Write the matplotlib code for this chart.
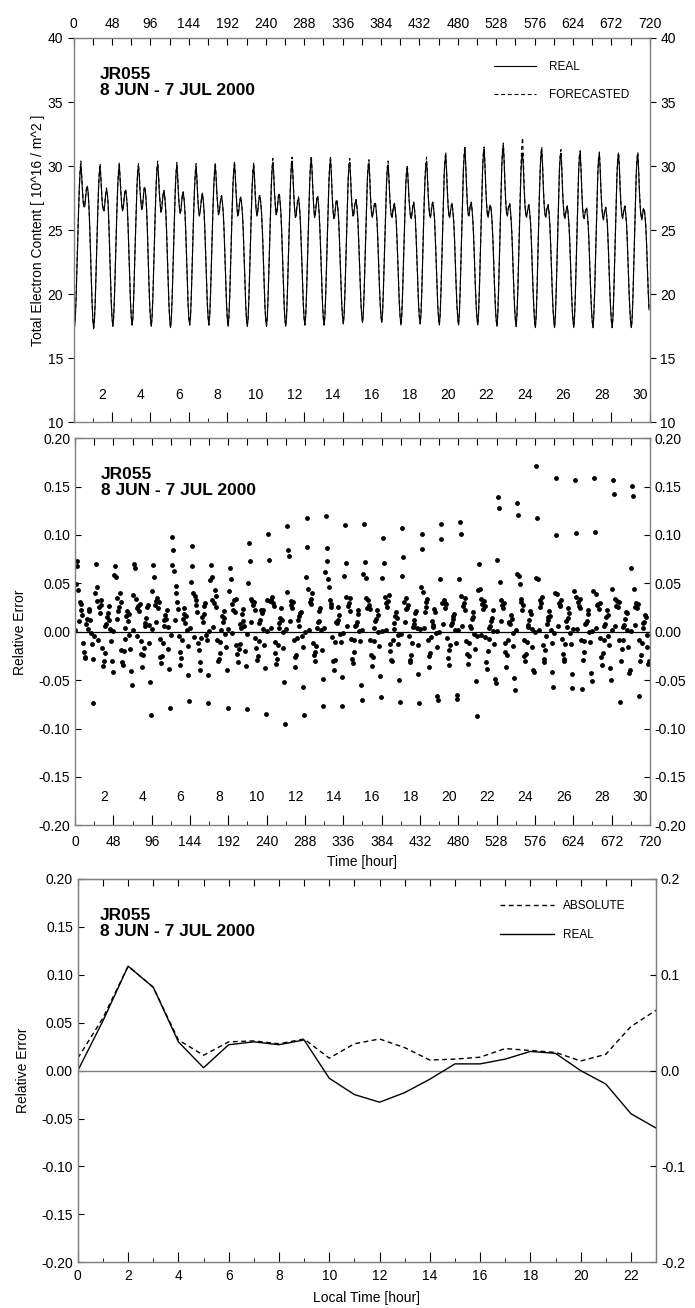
import numpy as np
import matplotlib
matplotlib.use("Agg")
import matplotlib.pyplot as plt
from matplotlib.ticker import MultipleLocator, FixedLocator
import matplotlib.transforms as mtransforms

plt.rcParams['font.family'] = ['Liberation Sans', 'DejaVu Sans']

# hourly TEC, one row per day (8 JUN - 7 JUL 2000), 10^16 / m^2
real_days = [
    [17.6, 17.4, 18.0, 19.6, 21.7, 24.0, 26.3, 28.2, 29.5, 30.2, 29.2, 28.0, 27.1, 26.8, 26.9, 27.6, 28.2, 28.4, 28.0, 27.0, 25.4, 23.3, 21.1, 19.3],
    [18.0, 17.3, 18.0, 19.5, 21.6, 23.9, 26.2, 28.1, 29.4, 30.0, 29.1, 27.8, 26.9, 26.6, 26.5, 27.1, 27.8, 28.2, 27.9, 27.1, 25.5, 23.4, 21.2, 19.3],
    [18.1, 17.5, 18.2, 19.8, 21.9, 24.2, 26.5, 28.3, 29.5, 30.1, 29.0, 27.9, 27.0, 26.5, 26.7, 27.4, 28.0, 28.1, 27.6, 26.9, 25.3, 23.3, 21.2, 19.4],
    [18.2, 17.6, 18.1, 19.7, 21.8, 24.1, 26.3, 28.2, 29.6, 30.0, 29.2, 28.0, 27.2, 26.6, 26.8, 27.5, 28.2, 28.3, 27.8, 26.8, 25.2, 23.1, 21.0, 19.2],
    [18.1, 17.5, 18.2, 19.8, 21.9, 24.2, 26.5, 28.4, 29.7, 30.2, 29.3, 28.0, 27.1, 26.4, 26.6, 27.3, 27.9, 28.0, 27.5, 26.6, 25.1, 23.2, 21.1, 19.3],
    [18.0, 17.4, 18.0, 19.6, 21.8, 24.0, 26.3, 28.2, 29.5, 30.1, 29.1, 27.7, 26.8, 26.3, 26.5, 27.2, 27.8, 27.9, 27.4, 26.5, 25.0, 23.0, 21.0, 19.2],
    [18.1, 17.6, 18.2, 19.8, 21.9, 24.2, 26.4, 28.2, 29.4, 30.0, 29.0, 27.6, 26.6, 26.1, 26.4, 27.0, 27.6, 27.8, 27.3, 26.4, 24.9, 23.0, 21.0, 19.3],
    [18.2, 17.6, 18.3, 19.9, 22.0, 24.3, 26.5, 28.3, 29.5, 30.1, 29.1, 27.8, 26.9, 26.2, 26.4, 27.0, 27.5, 27.6, 27.1, 26.3, 24.9, 23.0, 21.0, 19.3],
    [18.1, 17.5, 18.2, 19.8, 21.9, 24.2, 26.5, 28.4, 29.6, 30.2, 29.2, 27.9, 26.8, 26.1, 26.3, 26.9, 27.4, 27.5, 27.0, 26.2, 24.8, 22.9, 20.9, 19.2],
    [18.0, 17.5, 18.1, 19.7, 21.8, 24.1, 26.4, 28.3, 29.5, 30.1, 29.0, 27.6, 26.6, 26.1, 26.4, 27.1, 27.6, 27.6, 27.0, 26.1, 24.7, 22.8, 20.8, 19.1],
    [18.0, 17.5, 18.2, 19.8, 22.0, 24.3, 26.6, 28.5, 29.8, 30.3, 29.3, 27.9, 26.9, 26.2, 26.4, 27.0, 27.7, 27.8, 27.2, 26.3, 24.8, 22.9, 20.9, 19.2],
    [18.0, 17.5, 18.2, 19.9, 22.1, 24.5, 26.8, 28.7, 30.0, 30.4, 29.3, 27.8, 26.7, 26.0, 26.1, 26.8, 27.3, 27.5, 27.0, 26.1, 24.6, 22.8, 20.8, 19.2],
    [18.1, 17.6, 18.3, 20.0, 22.2, 24.6, 26.9, 28.8, 30.1, 30.6, 29.5, 28.0, 26.8, 26.0, 26.2, 26.9, 27.5, 27.6, 27.0, 26.1, 24.6, 22.8, 20.8, 19.2],
    [18.1, 17.6, 18.3, 20.0, 22.2, 24.6, 26.9, 28.8, 30.0, 30.5, 29.4, 27.8, 26.6, 25.9, 26.0, 26.6, 27.2, 27.3, 26.8, 26.0, 24.5, 22.7, 20.8, 19.2],
    [18.2, 17.7, 18.4, 20.1, 22.3, 24.7, 27.0, 28.9, 30.0, 30.3, 29.2, 27.7, 26.7, 26.1, 26.2, 26.8, 27.2, 27.3, 26.8, 26.0, 24.5, 22.7, 20.8, 19.3],
    [18.3, 17.8, 18.5, 20.2, 22.4, 24.8, 27.0, 28.9, 29.9, 30.2, 29.1, 27.5, 26.4, 26.0, 26.2, 26.7, 27.0, 27.1, 26.6, 25.8, 24.4, 22.6, 20.8, 19.3],
    [18.3, 17.8, 18.5, 20.2, 22.4, 24.7, 26.9, 28.7, 29.8, 30.1, 29.0, 27.6, 26.6, 26.1, 26.0, 26.5, 26.9, 27.0, 26.5, 25.8, 24.4, 22.6, 20.7, 19.2],
    [18.2, 17.6, 18.3, 20.0, 22.2, 24.5, 26.8, 28.5, 29.5, 29.8, 28.8, 27.5, 26.6, 26.0, 25.9, 26.4, 26.9, 27.1, 26.6, 25.8, 24.4, 22.6, 20.7, 19.2],
    [18.2, 17.7, 18.4, 20.1, 22.4, 24.8, 27.1, 28.9, 30.0, 30.4, 29.3, 27.8, 26.7, 26.1, 26.0, 26.5, 27.0, 27.1, 26.6, 25.8, 24.3, 22.5, 20.6, 19.1],
    [18.1, 17.6, 18.4, 20.2, 22.5, 25.0, 27.4, 29.3, 30.4, 30.8, 29.6, 28.0, 26.8, 26.1, 26.0, 26.5, 26.9, 27.0, 26.4, 25.6, 24.2, 22.4, 20.6, 19.1],
    [18.1, 17.6, 18.5, 20.3, 22.7, 25.2, 27.7, 29.6, 30.8, 31.2, 30.0, 28.3, 27.0, 26.2, 26.1, 26.6, 27.0, 27.1, 26.5, 25.6, 24.2, 22.4, 20.6, 19.1],
    [18.1, 17.6, 18.5, 20.3, 22.7, 25.2, 27.7, 29.7, 30.9, 31.3, 30.0, 28.3, 27.0, 26.2, 26.0, 26.5, 26.8, 26.9, 26.4, 25.5, 24.1, 22.3, 20.5, 19.0],
    [18.0, 17.5, 18.4, 20.3, 22.8, 25.4, 27.9, 30.0, 31.2, 31.6, 30.3, 28.5, 27.1, 26.3, 26.1, 26.6, 26.9, 27.0, 26.4, 25.5, 24.1, 22.3, 20.5, 19.0],
    [18.0, 17.5, 18.4, 20.2, 22.6, 25.1, 27.6, 29.6, 30.7, 31.0, 29.8, 28.1, 26.9, 26.2, 26.0, 26.4, 26.8, 26.9, 26.3, 25.5, 24.1, 22.3, 20.5, 19.0],
    [17.9, 17.4, 18.3, 20.2, 22.7, 25.2, 27.7, 29.7, 30.9, 31.2, 30.0, 28.2, 26.9, 26.2, 26.0, 26.5, 26.8, 26.9, 26.4, 25.5, 24.0, 22.2, 20.4, 18.9],
    [17.9, 17.4, 18.3, 20.2, 22.6, 25.1, 27.6, 29.6, 30.7, 31.0, 29.8, 28.0, 26.8, 26.1, 25.9, 26.4, 26.7, 26.8, 26.2, 25.4, 24.0, 22.2, 20.4, 18.9],
    [17.9, 17.4, 18.3, 20.1, 22.5, 25.0, 27.5, 29.5, 30.7, 31.0, 29.8, 28.0, 26.7, 26.0, 25.9, 26.3, 26.6, 26.7, 26.2, 25.4, 24.0, 22.2, 20.4, 18.9],
    [17.9, 17.4, 18.3, 20.1, 22.5, 25.0, 27.5, 29.4, 30.6, 30.9, 29.7, 28.0, 26.8, 26.1, 25.8, 26.2, 26.6, 26.7, 26.2, 25.4, 23.9, 22.1, 20.3, 18.9],
    [17.9, 17.4, 18.3, 20.1, 22.5, 25.0, 27.4, 29.4, 30.6, 30.9, 29.8, 28.1, 26.9, 26.2, 25.9, 26.3, 26.7, 26.8, 26.2, 25.4, 23.9, 22.1, 20.3, 18.8],
    [17.8, 17.4, 18.2, 20.0, 22.4, 24.9, 27.4, 29.3, 30.5, 30.9, 29.7, 28.0, 26.8, 26.1, 25.8, 26.2, 26.6, 26.6, 26.1, 25.3, 23.8, 22.0, 20.2, 18.8],
]

fcst_days = [
    [17.6, 17.5, 18.2, 19.8, 21.9, 24.2, 26.4, 28.3, 29.7, 30.4, 29.3, 28.1, 27.2, 26.9, 27.1, 27.7, 28.3, 28.5, 28.0, 27.0, 25.4, 23.3, 21.1, 19.3],
    [18.0, 17.4, 18.1, 19.6, 21.7, 24.0, 26.3, 28.3, 29.6, 30.2, 29.2, 27.9, 27.0, 26.7, 26.6, 27.2, 27.9, 28.3, 27.9, 27.1, 25.5, 23.4, 21.2, 19.3],
    [18.1, 17.5, 18.3, 19.9, 22.0, 24.3, 26.6, 28.4, 29.6, 30.3, 29.1, 28.0, 27.1, 26.6, 26.8, 27.5, 28.1, 28.2, 27.6, 26.9, 25.3, 23.3, 21.2, 19.4],
    [18.2, 17.6, 18.2, 19.8, 21.9, 24.2, 26.4, 28.3, 29.7, 30.2, 29.3, 28.1, 27.3, 26.7, 26.9, 27.6, 28.3, 28.4, 27.8, 26.8, 25.2, 23.1, 21.0, 19.2],
    [18.1, 17.5, 18.3, 19.9, 22.0, 24.3, 26.6, 28.5, 29.8, 30.4, 29.4, 28.1, 27.2, 26.5, 26.7, 27.4, 28.0, 28.1, 27.5, 26.6, 25.1, 23.2, 21.1, 19.3],
    [18.0, 17.4, 18.1, 19.7, 21.9, 24.1, 26.4, 28.3, 29.6, 30.3, 29.2, 27.8, 26.9, 26.4, 26.6, 27.3, 27.9, 28.0, 27.4, 26.5, 25.0, 23.0, 21.0, 19.2],
    [18.1, 17.6, 18.3, 19.9, 22.0, 24.3, 26.5, 28.3, 29.6, 30.2, 29.1, 27.7, 26.7, 26.2, 26.5, 27.1, 27.7, 27.9, 27.3, 26.4, 24.9, 23.0, 21.0, 19.3],
    [18.2, 17.6, 18.4, 20.0, 22.1, 24.4, 26.6, 28.4, 29.6, 30.3, 29.2, 27.9, 27.0, 26.3, 26.5, 27.1, 27.6, 27.7, 27.1, 26.3, 24.9, 23.0, 21.0, 19.3],
    [18.1, 17.5, 18.3, 19.9, 22.0, 24.3, 26.6, 28.5, 29.8, 30.4, 29.3, 28.0, 26.9, 26.2, 26.4, 27.0, 27.5, 27.6, 27.0, 26.2, 24.8, 22.9, 20.9, 19.2],
    [18.0, 17.5, 18.2, 19.8, 21.9, 24.2, 26.5, 28.4, 29.7, 30.3, 29.1, 27.7, 26.7, 26.2, 26.5, 27.2, 27.7, 27.7, 27.0, 26.1, 24.7, 22.8, 20.8, 19.1],
    [18.0, 17.5, 18.3, 19.9, 22.1, 24.4, 26.7, 28.6, 30.0, 30.6, 29.4, 28.0, 27.0, 26.3, 26.5, 27.1, 27.8, 27.9, 27.2, 26.3, 24.8, 22.9, 20.9, 19.2],
    [18.0, 17.5, 18.3, 20.0, 22.2, 24.6, 26.9, 28.8, 30.2, 30.7, 29.4, 27.9, 26.8, 26.1, 26.2, 26.9, 27.4, 27.6, 27.0, 26.1, 24.6, 22.8, 20.8, 19.2],
    [18.1, 17.6, 18.4, 20.1, 22.3, 24.7, 27.0, 28.9, 30.3, 30.8, 29.6, 28.1, 26.9, 26.1, 26.3, 27.0, 27.6, 27.7, 27.0, 26.1, 24.6, 22.8, 20.8, 19.2],
    [18.1, 17.6, 18.4, 20.1, 22.3, 24.7, 27.0, 28.9, 30.2, 30.8, 29.5, 27.9, 26.7, 26.0, 26.1, 26.7, 27.3, 27.4, 26.8, 26.0, 24.5, 22.7, 20.8, 19.2],
    [18.2, 17.7, 18.5, 20.2, 22.4, 24.8, 27.1, 29.0, 30.2, 30.6, 29.3, 27.8, 26.8, 26.2, 26.3, 26.9, 27.3, 27.4, 26.8, 26.0, 24.5, 22.7, 20.8, 19.3],
    [18.3, 17.8, 18.6, 20.3, 22.5, 24.9, 27.1, 29.0, 30.1, 30.5, 29.2, 27.6, 26.5, 26.1, 26.3, 26.8, 27.1, 27.2, 26.6, 25.8, 24.4, 22.6, 20.8, 19.3],
    [18.3, 17.8, 18.6, 20.3, 22.5, 24.8, 27.0, 28.8, 30.0, 30.4, 29.1, 27.7, 26.7, 26.2, 26.1, 26.6, 27.0, 27.1, 26.5, 25.8, 24.4, 22.6, 20.7, 19.2],
    [18.2, 17.6, 18.4, 20.1, 22.3, 24.6, 26.9, 28.6, 29.7, 30.1, 28.9, 27.6, 26.7, 26.1, 26.0, 26.5, 27.0, 27.2, 26.6, 25.8, 24.4, 22.6, 20.7, 19.2],
    [18.2, 17.7, 18.5, 20.2, 22.5, 24.9, 27.2, 29.0, 30.2, 30.7, 29.4, 27.9, 26.8, 26.2, 26.1, 26.6, 27.1, 27.2, 26.6, 25.8, 24.3, 22.5, 20.6, 19.1],
    [18.1, 17.6, 18.5, 20.3, 22.6, 25.1, 27.5, 29.4, 30.6, 31.1, 29.7, 28.1, 26.9, 26.2, 26.1, 26.6, 27.0, 27.1, 26.4, 25.6, 24.2, 22.4, 20.6, 19.1],
    [18.1, 17.6, 18.6, 20.4, 22.8, 25.3, 27.8, 29.8, 31.1, 31.6, 30.1, 28.4, 27.1, 26.3, 26.2, 26.7, 27.1, 27.2, 26.5, 25.6, 24.2, 22.4, 20.6, 19.1],
    [18.1, 17.6, 18.6, 20.4, 22.8, 25.3, 27.8, 29.8, 31.1, 31.5, 30.1, 28.4, 27.1, 26.3, 26.1, 26.6, 26.9, 27.0, 26.4, 25.5, 24.1, 22.3, 20.5, 19.0],
    [18.0, 17.5, 18.5, 20.4, 22.9, 25.5, 28.0, 30.1, 31.4, 31.8, 30.4, 28.6, 27.2, 26.4, 26.2, 26.7, 27.0, 27.1, 26.4, 25.5, 24.1, 22.3, 20.5, 19.0],
    [18.0, 17.5, 18.5, 20.3, 22.7, 25.3, 27.9, 30.2, 31.6, 32.2, 30.6, 28.4, 27.0, 26.3, 26.1, 26.5, 26.9, 27.0, 26.3, 25.5, 24.1, 22.3, 20.5, 19.0],
    [17.9, 17.4, 18.4, 20.3, 22.8, 25.3, 27.8, 29.8, 31.1, 31.5, 30.1, 28.3, 27.0, 26.3, 26.1, 26.6, 26.9, 27.0, 26.4, 25.5, 24.0, 22.2, 20.4, 18.9],
    [17.9, 17.4, 18.4, 20.3, 22.7, 25.2, 27.7, 29.7, 30.9, 31.3, 29.9, 28.1, 26.9, 26.2, 26.0, 26.5, 26.8, 26.9, 26.2, 25.4, 24.0, 22.2, 20.4, 18.9],
    [17.9, 17.4, 18.4, 20.2, 22.6, 25.1, 27.6, 29.6, 30.9, 31.2, 29.9, 28.1, 26.8, 26.1, 26.0, 26.4, 26.7, 26.8, 26.2, 25.4, 24.0, 22.2, 20.4, 18.9],
    [17.9, 17.4, 18.4, 20.2, 22.6, 25.1, 27.6, 29.5, 30.8, 31.1, 29.8, 28.1, 26.9, 26.2, 25.9, 26.3, 26.7, 26.8, 26.2, 25.4, 23.9, 22.1, 20.3, 18.9],
    [17.9, 17.4, 18.4, 20.2, 22.6, 25.1, 27.5, 29.5, 30.8, 31.1, 29.9, 28.2, 27.0, 26.3, 26.0, 26.4, 26.8, 26.9, 26.2, 25.4, 23.9, 22.1, 20.3, 18.8],
    [17.8, 17.4, 18.3, 20.1, 22.5, 25.0, 27.5, 29.4, 30.7, 31.1, 29.8, 28.1, 26.9, 26.2, 25.9, 26.3, 26.7, 26.7, 26.1, 25.3, 23.8, 22.0, 20.2, 18.8],
]

# hourly relative error, one row per day
err_days = [
    [0.002, 0.049, 0.073, 0.068, 0.043, 0.011, 0.031, 0.029, 0.022, 0.017, -0.012, -0.021, -0.027, -0.026, 0.008, 0.013, 0.003, 0.021, 0.024, 0.012, -0.001, -0.013, -0.028, -0.074],
    [-0.004, 0.040, 0.070, 0.046, 0.032, -0.008, 0.026, 0.019, 0.028, 0.033, -0.017, -0.035, -0.030, -0.022, 0.006, 0.008, 0.015, 0.019, 0.027, 0.012, 0.003, -0.010, -0.030, -0.042],
    [0.001, 0.059, 0.068, 0.057, 0.035, 0.013, 0.021, 0.026, 0.040, 0.031, -0.019, -0.031, -0.034, -0.020, -0.007, 0.004, 0.016, 0.021, 0.011, 0.018, -0.003, -0.018, -0.041, -0.055],
    [0.002, 0.038, 0.070, 0.066, 0.034, -0.004, 0.025, 0.027, 0.021, 0.029, -0.010, -0.023, -0.036, -0.024, -0.017, 0.006, 0.009, 0.014, 0.026, 0.028, 0.007, -0.012, -0.052, -0.086],
    [0.003, 0.042, 0.069, 0.057, 0.028, 0.010, 0.032, 0.035, 0.025, 0.031, -0.007, -0.026, -0.032, -0.025, -0.012, 0.012, 0.006, 0.017, 0.013, 0.022, 0.005, -0.018, -0.038, -0.079],
    [-0.003, 0.069, 0.098, 0.084, 0.063, 0.012, 0.047, 0.040, 0.031, 0.024, -0.004, -0.021, -0.034, -0.027, -0.009, 0.013, 0.018, 0.025, 0.009, 0.016, 0.002, -0.015, -0.045, -0.072],
    [0.004, 0.051, 0.089, 0.068, 0.040, -0.005, 0.037, 0.033, 0.028, 0.020, -0.012, -0.019, -0.039, -0.031, -0.006, 0.015, 0.010, 0.027, 0.018, 0.030, -0.003, -0.008, -0.045, -0.074],
    [0.001, 0.053, 0.069, 0.057, 0.033, 0.005, 0.030, 0.043, 0.037, 0.026, -0.009, -0.030, -0.028, -0.022, -0.011, 0.002, 0.016, 0.010, 0.021, 0.014, -0.002, -0.016, -0.040, -0.079],
    [0.003, 0.042, 0.066, 0.055, 0.029, -0.001, 0.023, 0.033, 0.020, 0.034, -0.014, -0.023, -0.031, -0.018, -0.013, 0.008, 0.004, 0.018, 0.024, 0.011, 0.006, -0.020, -0.035, -0.080],
    [-0.002, 0.050, 0.092, 0.073, 0.034, 0.010, 0.032, 0.028, 0.031, 0.022, -0.006, -0.017, -0.029, -0.025, -0.010, 0.009, 0.012, 0.022, 0.019, 0.023, 0.003, -0.014, -0.037, -0.085],
    [0.001, 0.033, 0.101, 0.074, 0.032, 0.004, 0.033, 0.036, 0.030, 0.027, -0.011, -0.022, -0.033, -0.028, -0.014, 0.009, 0.004, 0.014, 0.025, 0.012, 0.000, -0.017, -0.052, -0.095],
    [0.003, 0.041, 0.109, 0.084, 0.078, 0.011, 0.028, 0.032, 0.025, 0.031, -0.008, -0.026, -0.036, -0.024, -0.006, 0.012, 0.006, 0.016, 0.019, 0.020, -0.004, -0.016, -0.057, -0.086],
    [0.000, 0.057, 0.118, 0.088, 0.044, 0.002, 0.031, 0.029, 0.034, 0.040, -0.012, -0.024, -0.030, -0.021, -0.015, 0.004, 0.010, 0.011, 0.021, 0.025, 0.002, -0.019, -0.049, -0.077],
    [0.004, 0.062, 0.120, 0.087, 0.073, 0.055, 0.046, 0.033, 0.029, 0.026, -0.005, -0.030, -0.039, -0.029, -0.011, 0.010, 0.009, 0.012, 0.026, 0.017, -0.002, -0.011, -0.047, -0.077],
    [-0.001, 0.058, 0.110, 0.071, 0.036, 0.006, 0.027, 0.030, 0.021, 0.035, -0.007, -0.028, -0.032, -0.021, -0.009, 0.006, 0.007, 0.010, 0.018, 0.022, 0.001, -0.010, -0.055, -0.071],
    [0.002, 0.060, 0.111, 0.072, 0.056, 0.035, 0.025, 0.033, 0.028, 0.024, -0.009, -0.024, -0.035, -0.026, -0.010, 0.004, 0.011, 0.013, 0.023, 0.017, 0.000, -0.015, -0.046, -0.067],
    [0.001, 0.056, 0.097, 0.071, 0.036, 0.002, 0.030, 0.026, 0.032, 0.038, -0.013, -0.020, -0.029, -0.030, -0.008, 0.009, 0.003, 0.016, 0.020, 0.014, -0.003, -0.013, -0.050, -0.073],
    [-0.002, 0.058, 0.107, 0.077, 0.031, 0.010, 0.024, 0.035, 0.025, 0.028, -0.004, -0.029, -0.031, -0.024, -0.012, 0.005, 0.008, 0.012, 0.019, 0.021, 0.004, -0.014, -0.044, -0.074],
    [0.003, 0.046, 0.101, 0.085, 0.041, 0.004, 0.020, 0.031, 0.026, 0.034, -0.008, -0.025, -0.036, -0.022, -0.005, 0.011, 0.005, 0.007, 0.024, 0.020, -0.001, -0.016, -0.066, -0.071],
    [0.000, 0.054, 0.111, 0.096, 0.030, 0.008, 0.033, 0.025, 0.030, 0.029, -0.006, -0.027, -0.034, -0.019, -0.014, 0.007, 0.009, 0.013, 0.016, 0.018, 0.002, -0.012, -0.065, -0.069],
    [0.002, 0.054, 0.113, 0.101, 0.037, 0.006, 0.027, 0.030, 0.022, 0.035, -0.010, -0.023, -0.033, -0.025, -0.012, 0.006, 0.004, 0.013, 0.020, 0.015, -0.002, -0.018, -0.051, -0.087],
    [-0.004, 0.043, 0.070, 0.044, 0.034, -0.003, 0.029, 0.024, 0.032, 0.027, -0.005, -0.031, -0.038, -0.020, -0.007, 0.004, 0.006, 0.011, 0.014, 0.022, 0.001, -0.013, -0.049, -0.053],
    [0.001, 0.074, 0.139, 0.128, 0.051, 0.011, 0.033, 0.028, 0.025, 0.030, -0.012, -0.021, -0.036, -0.024, -0.009, 0.009, 0.010, 0.008, 0.017, 0.013, -0.001, -0.015, -0.048, -0.060],
    [0.002, 0.060, 0.133, 0.121, 0.058, 0.049, 0.031, 0.034, 0.023, 0.028, -0.009, -0.025, -0.030, -0.023, -0.011, 0.005, 0.007, 0.012, 0.021, 0.018, 0.003, -0.016, -0.039, -0.042],
    [0.000, 0.056, 0.171, 0.118, 0.054, 0.002, 0.026, 0.033, 0.030, 0.036, -0.014, -0.028, -0.031, -0.019, -0.004, 0.008, 0.012, 0.015, 0.021, 0.016, 0.002, -0.012, -0.042, -0.057],
    [-0.001, 0.040, 0.159, 0.100, 0.039, 0.006, 0.030, 0.027, 0.028, 0.033, -0.007, -0.023, -0.030, -0.028, -0.013, 0.011, 0.005, 0.014, 0.025, 0.019, -0.001, -0.013, -0.044, -0.058],
    [0.003, 0.042, 0.157, 0.102, 0.036, 0.003, 0.031, 0.027, 0.025, 0.034, -0.008, -0.059, -0.029, -0.021, -0.010, 0.008, 0.009, 0.011, 0.018, 0.023, 0.000, -0.011, -0.043, -0.051],
    [0.001, 0.042, 0.159, 0.103, 0.039, 0.004, 0.028, 0.029, 0.024, 0.030, -0.006, -0.026, -0.034, -0.022, -0.009, 0.006, 0.008, 0.015, 0.022, 0.017, -0.004, -0.014, -0.037, -0.050],
    [0.002, 0.044, 0.157, 0.142, 0.034, 0.006, 0.027, 0.032, 0.026, 0.031, -0.008, -0.073, -0.030, -0.018, -0.008, 0.005, 0.007, 0.013, 0.020, 0.019, 0.002, -0.016, -0.043, -0.040],
    [0.001, 0.066, 0.151, 0.140, 0.044, 0.007, 0.026, 0.030, 0.025, 0.029, -0.009, -0.066, -0.030, -0.024, -0.012, 0.004, 0.009, 0.010, 0.017, 0.015, -0.003, -0.016, -0.033, -0.030],
]

# mean relative error by local time
lt_hour = list(range(24))
lt_real = [0.000, 0.052, 0.109, 0.087, 0.030, 0.003, 0.027, 0.030, 0.027, 0.032, -0.008, -0.025,
           -0.033, -0.023, -0.009, 0.007, 0.007, 0.012, 0.020, 0.018, 0.000, -0.014, -0.045, -0.060]
lt_abs = [0.013, 0.055, 0.109, 0.087, 0.032, 0.016, 0.030, 0.031, 0.028, 0.033, 0.013, 0.028,
          0.033, 0.024, 0.011, 0.012, 0.014, 0.023, 0.021, 0.019, 0.010, 0.017, 0.046, 0.063]

day_labels = list(range(2, 31, 2))
hour_ticks = list(range(0, 721, 48))
title = "JR055\n8 JUN - 7 JUL 2000"

tec_real = np.concatenate(real_days)
tec_fcst = np.concatenate(fcst_days)
rel_err = np.concatenate(err_days)
hours = np.arange(len(tec_real))
day_pos = [(d - 0.5) * 24 for d in day_labels]

fig = plt.figure(figsize=(6.95, 13.08), dpi=100)
spine_col = '#808080'


def frame(ax):
    for s in ax.spines.values():
        s.set_color(spine_col)
        s.set_linewidth(1.0)
    ax.tick_params(colors='black', labelsize=10, width=0.8)


def hour_axis(ax, labels_top):
    ax.set_xlim(0, 720)
    ax.xaxis.set_major_locator(FixedLocator(hour_ticks))
    ax.xaxis.set_minor_locator(MultipleLocator(24))
    ax.tick_params(axis='x', which='major', direction='in', length=7, top=False, bottom=True,
                   labelbottom=not labels_top, labeltop=False, pad=7)
    ax.tick_params(axis='x', which='minor', direction='in', length=3, top=False, bottom=True)
    top = ax.secondary_xaxis('top')
    if labels_top:
        top.xaxis.set_major_locator(FixedLocator(hour_ticks))
        top.xaxis.set_minor_locator(MultipleLocator(24))
    else:
        top.xaxis.set_major_locator(FixedLocator(list(range(0, 721, 24))))
        top.set_xticklabels([])
    top.tick_params(axis='x', which='both', direction='in', length=5, labelsize=10, width=0.8,
                    labeltop=labels_top, pad=5)
    top.spines['top'].set_color(spine_col)
    tr = mtransforms.blended_transform_factory(ax.transData, ax.transAxes)
    for d, p in zip(day_labels, day_pos):
        ax.text(p, 0.072, str(d), transform=tr, ha='center', va='center', fontsize=10)


# ---- top: TEC time series
ax1 = fig.add_axes([0.106, 0.677, 0.829, 0.294])
frame(ax1)
ax1.plot(hours, tec_real, color='black', lw=0.8, label='REAL')
ax1.plot(hours, tec_fcst, color='black', lw=0.8, dashes=(3.5, 2.5), label='FORECASTED')
ax1.set_ylim(10, 40)
ax1.yaxis.set_major_locator(MultipleLocator(5))
ax1.tick_params(axis='y', direction='out', length=4, left=True, right=True,
                labelleft=True, labelright=True)
hour_axis(ax1, labels_top=True)
ax1.set_ylabel('Total Electron Content [ 10^16 / m^2 ]', fontsize=10, labelpad=2)
ax1.text(0.045, 0.925, title, transform=ax1.transAxes, ha='left', va='top',
         fontsize=12.5, fontweight='bold', linespacing=1.1)
ax1.legend(loc='upper left', bbox_to_anchor=(0.729, 0.94), frameon=False, fontsize=8.5,
           handlelength=3.6, handletextpad=1.1, labelspacing=1.35, borderpad=0, borderaxespad=0)

# ---- middle: relative error time series
ax2 = fig.add_axes([0.108, 0.369, 0.827, 0.296])
frame(ax2)
ax2.axhline(0, color='black', lw=0.9)
ax2.plot(hours, rel_err, 'o', color='black', ms=3.5, mew=0)
ax2.set_ylim(-0.2, 0.2)
ax2.yaxis.set_major_locator(MultipleLocator(0.05))
ax2.yaxis.set_major_formatter(lambda v, p: f'{v:.2f}')
ax2.tick_params(axis='y', direction='in', length=4, left=True, right=True,
                labelleft=True, labelright=True)
hour_axis(ax2, labels_top=False)
ax2.set_xlabel('Time [hour]', fontsize=10, labelpad=4)
ax2.set_ylabel('Relative Error', fontsize=10, labelpad=8)
ax2.text(0.045, 0.925, title, transform=ax2.transAxes, ha='left', va='top',
         fontsize=12.5, fontweight='bold', linespacing=1.1)

# ---- bottom: relative error by local time
ax3 = fig.add_axes([0.112, 0.035, 0.832, 0.293])
frame(ax3)
ax3.axhline(0, color=spine_col, lw=1.0)
ax3.plot(lt_hour, lt_abs, color='black', lw=1.0, dashes=(3.5, 2.5), label='ABSOLUTE')
ax3.plot(lt_hour, lt_real, color='black', lw=1.0, label='REAL')
ax3.set_xlim(0, 23)
ax3.set_ylim(-0.2, 0.2)
ax3.xaxis.set_major_locator(FixedLocator(list(range(0, 23, 2))))
ax3.xaxis.set_minor_locator(FixedLocator(lt_hour))
ax3.tick_params(axis='x', which='major', direction='in', length=7, top=False, pad=5)
ax3.tick_params(axis='x', which='minor', direction='in', length=3, top=False)
top3 = ax3.secondary_xaxis('top')
top3.xaxis.set_major_locator(FixedLocator(lt_hour))
top3.set_xticklabels([])
top3.tick_params(axis='x', which='both', direction='in', length=5, width=0.8, labeltop=False)
top3.spines['top'].set_color(spine_col)
ax3.yaxis.set_major_locator(MultipleLocator(0.05))
ax3.yaxis.set_major_formatter(lambda v, p: f'{v:.2f}')
ax3.tick_params(axis='y', direction='in', length=4, left=True, right=False)
ax3r = ax3.twinx()
ax3r.set_ylim(-0.2, 0.2)
ax3r.yaxis.set_major_locator(MultipleLocator(0.1))
ax3r.yaxis.set_major_formatter(lambda v, p: f'{v:.1f}')
ax3r.tick_params(axis='y', direction='in', length=4, labelsize=10, width=0.8)
for s in ax3r.spines.values():
    s.set_color(spine_col)
ax3.set_xlabel('Local Time [hour]', fontsize=10, labelpad=6)
ax3.set_ylabel('Relative Error', fontsize=10, labelpad=8)
ax3.text(0.038, 0.925, title, transform=ax3.transAxes, ha='left', va='top',
         fontsize=12.5, fontweight='bold', linespacing=1.1)
ax3.legend(loc='upper left', bbox_to_anchor=(0.73, 0.945), frameon=False, fontsize=8.5,
           handlelength=4.6, handletextpad=0.7, labelspacing=1.45, borderpad=0, borderaxespad=0)

fig.savefig('out.png', dpi=100)
